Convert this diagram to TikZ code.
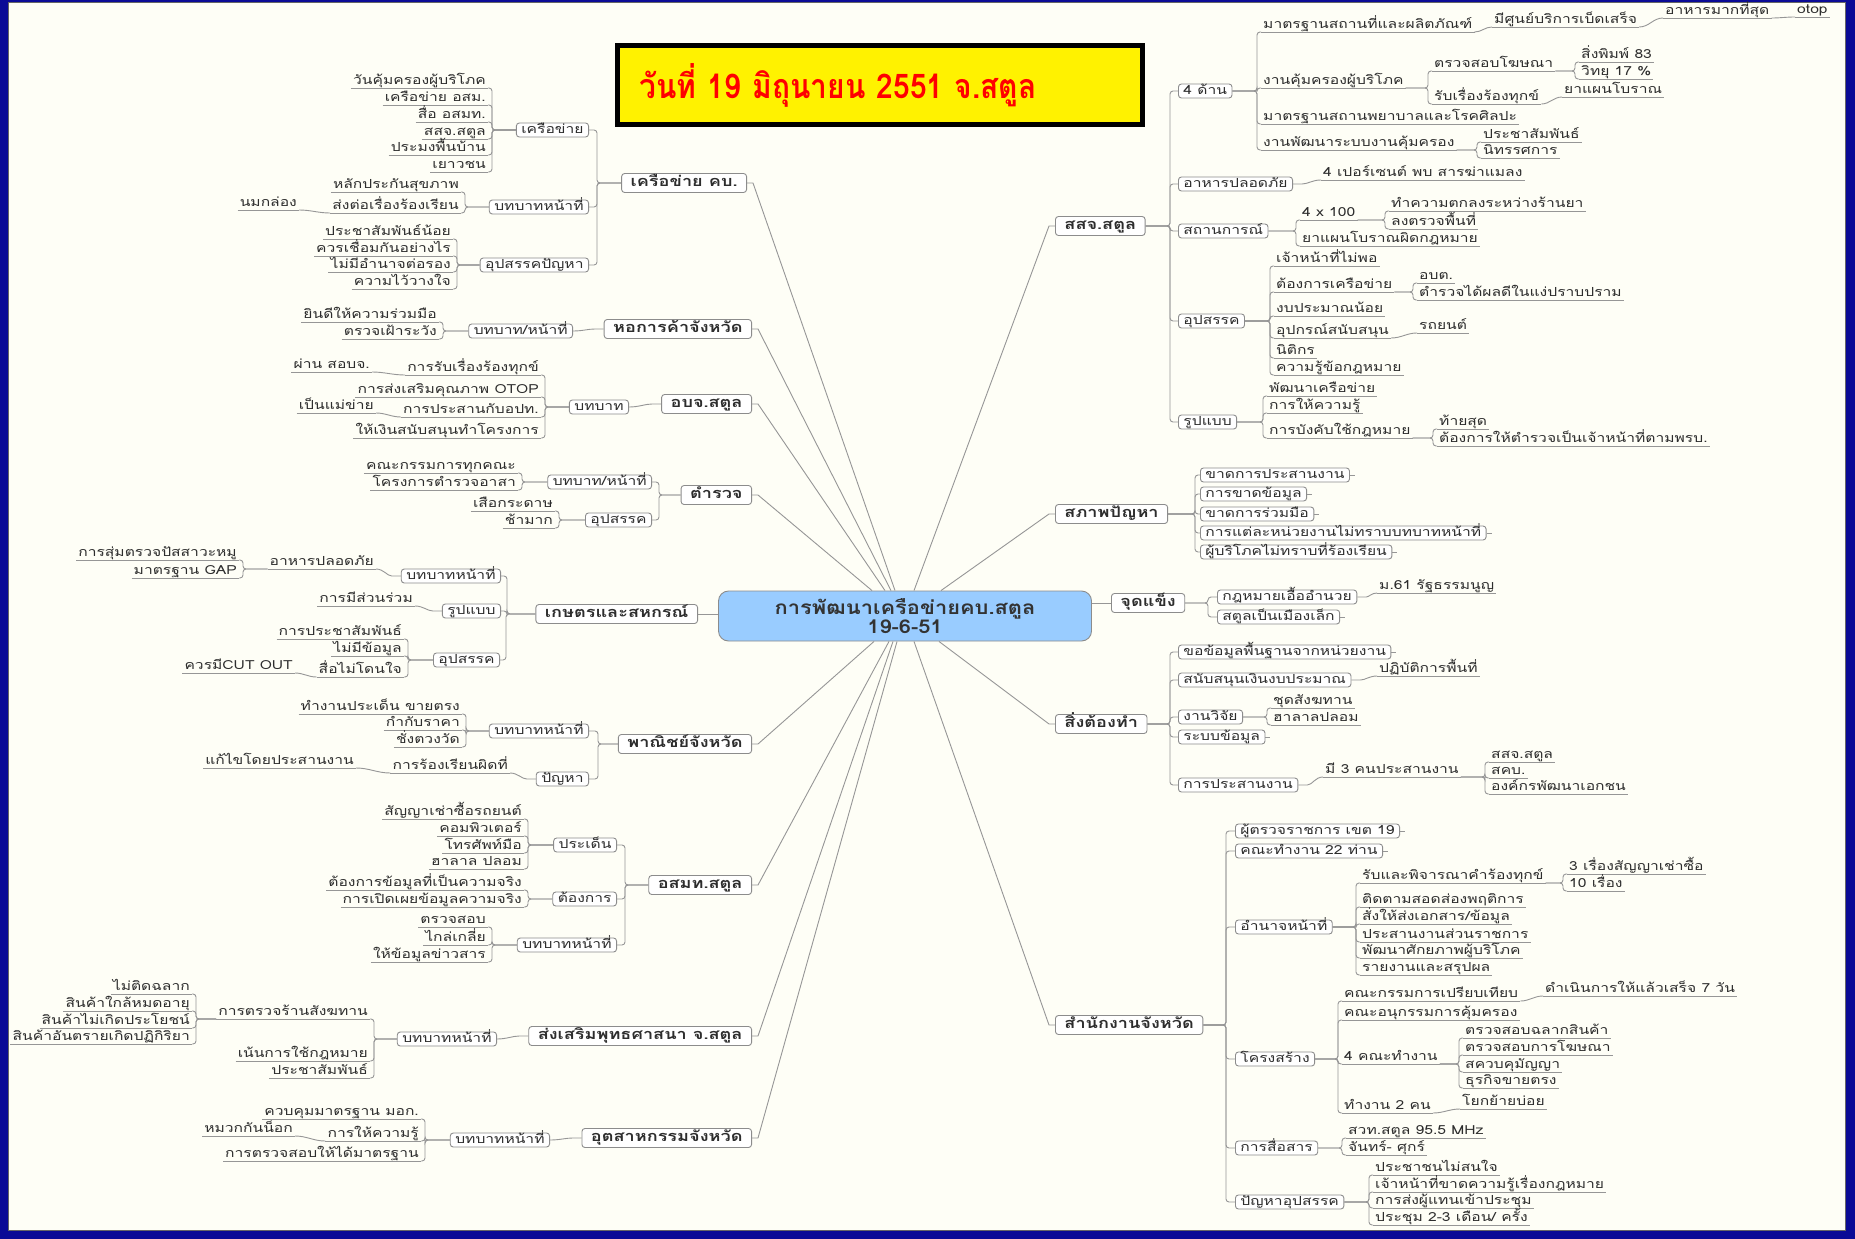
\documentclass[tikz,border=0pt]{standalone}
\usepackage{fontspec}
\newfontfamily\thai[Script=Thai,FakeStretch=1.25]{Loma}
\newfontfamily\thairoot[Script=Thai,FakeStretch=1.15]{Loma}
\newfontfamily\thaititle[Script=Thai,FakeStretch=0.88]{Loma}
\newcommand\leaffont{\thai\fontsize{12.5}{14}\selectfont}
\newcommand\mainboxfont{\thai\bfseries\fontsize{14.5}{16}\selectfont}
\newcommand\rootfont{\thairoot\bfseries\fontsize{19}{18}\selectfont}
\newcommand\titlefont{\thaititle\bfseries\fontsize{34}{36}\selectfont}
\definecolor{linec}{RGB}{150,150,150}
\definecolor{boxc}{RGB}{140,140,140}
\definecolor{textc}{RGB}{45,45,45}
\definecolor{bgcream}{RGB}{254,254,246}
\definecolor{frameblue}{RGB}{10,10,150}
\definecolor{rootblue}{RGB}{153,204,255}
\begin{document}
\begin{tikzpicture}[x=1pt,y=-1pt,
  link/.style={draw=linec,line width=0.9pt,rounded corners=3pt},
  spoke/.style={draw=linec,line width=0.9pt},
  uline/.style={draw=linec,line width=0.9pt},
  leaf/.style={font=\leaffont,text=textc,inner xsep=2pt,inner ysep=1.5pt,text height=8pt,text depth=1.5pt,
    append after command={(\tikzlastnode.south west) edge[uline] (\tikzlastnode.south east)}},
  leafl/.style={leaf,anchor=south east},
  leafr/.style={leaf,anchor=south west},
  subbox/.style={draw=boxc,line width=0.9pt,fill=white,rounded corners=3pt,font=\leaffont,text=textc,
    inner xsep=5pt,inner ysep=2pt,text height=8pt,text depth=2pt},
  subl/.style={subbox,anchor=east},
  subr/.style={subbox,anchor=west},
  mainbox/.style={subbox,font=\mainboxfont,inner xsep=9pt,inner ysep=3pt,text height=10pt,text depth=3pt},
  mainl/.style={mainbox,anchor=east},
  mainr/.style={mainbox,anchor=west},
  stub/.style={append after command={(\tikzlastnode.east) edge[uline] ++(5,0)}}]
\useasboundingbox (0,0) rectangle (1855,1239);
\fill[frameblue] (0,0) rectangle (1855,1239);
\fill[bgcream] (8,3) rectangle (1845,1230);
\draw[black!60,line width=1pt] (8,3) rectangle (1845,1230);

\node[draw=black,line width=5pt,fill=yellow,minimum width=525,minimum height=78,inner xsep=22pt,text width=481pt,align=left,font=\titlefont,text=red] (title) at (880,85) {วันที่ 19 มิถุนายน 2551 จ.สตูล};
\node[draw=boxc,line width=0.9pt,fill=rootblue,rounded corners=10pt,minimum width=373,minimum height=50,inner sep=0pt,align=center,font=\rootfont,text=black!80] (root) at (905,616) {การพัฒนาเครือข่ายคบ.สตูล\\19-6-51};

% left side
\node[mainl] (kb) at (747,183) {เครือข่าย คบ.};
\node[subl] (kb1) at (589,130) {เครือข่าย};
\node[subl] (kb2) at (589,207) {บทบาทหน้าที่};
\node[subl] (kb3) at (589,265) {อุปสรรคปัญหา};
\node[leafl] (kb1a) at (488,88) {วันคุ้มครองผู้บริโภค};
\node[leafl] (kb1b) at (488,105) {เครือข่าย อสม.};
\node[leafl] (kb1c) at (488,122) {สื่อ อสมท.};
\node[leafl] (kb1d) at (488,139) {สสจ.สตูล};
\node[leafl] (kb1e) at (488,155) {ประมงพื้นบ้าน};
\node[leafl] (kb1f) at (488,172) {เยาวชน};
\node[leafl] (kb2a) at (461,192) {หลักประกันสุขภาพ};
\node[leafl] (kb2b) at (461,213) {ส่งต่อเรื่องร้องเรียน};
\node[leafl] (kb2b1) at (299,210) {นมกล่อง};
\node[leafl] (kb3a) at (453,239) {ประชาสัมพันธ์น้อย};
\node[leafl] (kb3b) at (453,256) {ควรเชื่อมกันอย่างไร};
\node[leafl] (kb3c) at (453,272) {ไม่มีอำนาจต่อรอง};
\node[leafl] (kb3d) at (453,289) {ความไว้วางใจ};

\node[mainl] (hk) at (752,329) {หอการค้าจังหวัด};
\node[subl] (hk1) at (573,331) {บทบาท/หน้าที่};
\node[leafl] (hk1a) at (439,322) {ยินดีให้ความร่วมมือ};
\node[leafl] (hk1b) at (439,339) {ตรวจเฝ้าระวัง};

\node[mainl] (obj) at (752,404) {อบจ.สตูล};
\node[subl] (obj1) at (629,407) {บทบาท};
\node[leafl] (obj1a) at (541,375) {การรับเรื่องร้องทุกข์};
\node[leafl] (obj1b) at (541,397) {การส่งเสริมคุณภาพ OTOP};
\node[leafl] (obj1c) at (541,417) {การประสานกับอปท.};
\node[leafl] (obj1d) at (541,438) {ให้เงินสนับสนุนทำโครงการ};
\node[leafl] (obj1a1) at (372,372) {ผ่าน สอบจ.};
\node[leafl] (obj1c1) at (376,413) {เป็นแม่ข่าย};

\node[mainl] (pol) at (752,495) {ตำรวจ};
\node[subl] (pol1) at (652,482) {บทบาท/หน้าที่};
\node[subl] (pol2) at (652,520) {อุปสรรค};
\node[leafl] (pol1a) at (518,473) {คณะกรรมการทุกคณะ};
\node[leafl] (pol1b) at (518,490) {โครงการตำรวจอาสา};
\node[leafl] (pol2a) at (555,511) {เสือกระดาษ};
\node[leafl] (pol2b) at (555,528) {ช้ามาก};

\node[mainl] (agr) at (698,614) {เกษตรและสหกรณ์};
\node[subl] (agr1) at (501,576) {บทบาทหน้าที่};
\node[subl] (agr2) at (501,611) {รูปแบบ};
\node[subl] (agr3) at (500,660) {อุปสรรค};
\node[leafl] (agr1a) at (376,569) {อาหารปลอดภัย};
\node[leafl] (agr1a1) at (239,560) {การสุ่มตรวจปัสสาวะหมู};
\node[leafl] (agr1a2) at (239,578) {มาตรฐาน GAP};
\node[leafl] (agr2a) at (415,606) {การมีส่วนร่วม};
\node[leafl] (agr3a) at (404,639) {การประชาสัมพันธ์};
\node[leafl] (agr3b) at (404,656) {ไม่มีข้อมูล};
\node[leafl] (agr3c) at (404,677) {สื่อไม่โดนใจ};
\node[leafl] (agr3c1) at (295,673) {ควรมีCUT OUT};

\node[mainl] (com) at (752,744) {พาณิชย์จังหวัด};
\node[subl] (com1) at (589,731) {บทบาทหน้าที่};
\node[subl] (com2) at (589,779) {ปัญหา};
\node[leafl] (com1a) at (462,714) {ทำงานประเด็น ขายตรง};
\node[leafl] (com1b) at (462,730) {กำกับราคา};
\node[leafl] (com1c) at (462,747) {ชั่งตวงวัด};
\node[leafl] (com2a) at (510,773) {การร้องเรียนผิดที่};
\node[leafl] (com2a1) at (356,768) {แก้ไขโดยประสานงาน};

\node[mainl] (mcot) at (752,885) {อสมท.สตูล};
\node[subl] (mc1) at (617,845) {ประเด็น};
\node[subl] (mc2) at (617,899) {ต้องการ};
\node[subl] (mc3) at (617,945) {บทบาทหน้าที่};
\node[leafl] (mc1a) at (524,819) {สัญญาเช่าซื้อรถยนต์};
\node[leafl] (mc1b) at (524,836) {คอมพิวเตอร์};
\node[leafl] (mc1c) at (524,853) {โทรศัพท์มือ};
\node[leafl] (mc1d) at (524,869) {ฮาลาล ปลอม};
\node[leafl] (mc2a) at (524,890) {ต้องการข้อมูลที่เป็นความจริง};
\node[leafl] (mc2b) at (524,907) {การเปิดเผยข้อมูลความจริง};
\node[leafl] (mc3a) at (488,927) {ตรวจสอบ};
\node[leafl] (mc3b) at (488,945) {ไกล่เกลี่ย};
\node[leafl] (mc3c) at (488,962) {ให้ข้อมูลข่าวสาร};

\node[mainl] (bud) at (752,1036) {ส่งเสริมพุทธศาสนา จ.สตูล};
\node[subl] (bud1) at (497,1039) {บทบาทหน้าที่};
\node[leafl] (bud1a) at (370,1019) {การตรวจร้านสังฆทาน};
\node[leafl] (bud1b) at (370,1061) {เน้นการใช้กฎหมาย};
\node[leafl] (bud1c) at (370,1078) {ประชาสัมพันธ์};
\node[leafl] (bud1a1) at (192,994) {ไม่ติดฉลาก};
\node[leafl] (bud1a2) at (192,1011) {สินค้าใกล้หมดอายุ};
\node[leafl] (bud1a3) at (192,1028) {สินค้าไม่เกิดประโยชน์};
\node[leafl] (bud1a4) at (192,1044) {สินค้าอันตรายเกิดปฏิกิริยา};

\node[mainl] (ind) at (752,1138) {อุตสาหกรรมจังหวัด};
\node[subl] (ind1) at (550,1140) {บทบาทหน้าที่};
\node[leafl] (ind1a) at (421,1119) {ควบคุมมาตรฐาน มอก.};
\node[leafl] (ind1b) at (421,1141) {การให้ความรู้};
\node[leafl] (ind1c) at (421,1161) {การตรวจสอบให้ได้มาตรฐาน};
\node[leafl] (ind1b1) at (295,1136) {หมวกกันน็อก};

% right side
\node[mainr] (ssj) at (1055,226) {สสจ.สตูล};
\node[subr] (ssj1) at (1178,91) {4 ด้าน};
\node[subr] (ssj2) at (1178,184) {อาหารปลอดภัย};
\node[subr] (ssj3) at (1178,231) {สถานการณ์};
\node[subr] (ssj4) at (1178,321) {อุปสรรค};
\node[subr] (ssj5) at (1178,422) {รูปแบบ};
\node[leafr] (ssj1a) at (1261,32) {มาตรฐานสถานที่และผลิตภัณฑ์};
\node[leafr] (ssj1b) at (1261,88) {งานคุ้มครองผู้บริโภค};
\node[leafr] (ssj1c) at (1261,124) {มาตรฐานสถานพยาบาลและโรคศิลปะ};
\node[leafr] (ssj1d) at (1261,150) {งานพัฒนาระบบงานคุ้มครอง};
\node[leafr] (ssj1a1) at (1492,27) {มีศูนย์บริการเบ็ดเสร็จ};
\node[leafr] (ssj1a2) at (1663,18) {อาหารมากที่สุด};
\node[leafr] (ssj1a3) at (1795,17) {otop};
\node[leafr] (ssj1b1) at (1432,71) {ตรวจสอบโฆษณา};
\node[leafr] (ssj1b2) at (1432,104) {รับเรื่องร้องทุกข์};
\node[leafr] (ssj1b1a) at (1579,62) {สิ่งพิมพ์ 83};
\node[leafr] (ssj1b1b) at (1579,79) {วิทยุ 17 \%};
\node[leafr] (ssj1b2a) at (1562,97) {ยาแผนโบราณ};
\node[leafr] (ssj1d1) at (1481,142) {ประชาสัมพันธ์};
\node[leafr] (ssj1d2) at (1481,158) {นิทรรศการ};
\node[leafr] (ssj2a) at (1321,180) {4 เปอร์เซนต์ พบ สารฆ่าแมลง};
\node[leafr] (ssj3a) at (1300,220) {4 x 100};
\node[leafr] (ssj3b) at (1300,246) {ยาแผนโบราณผิดกฎหมาย};
\node[leafr] (ssj3a1) at (1389,211) {ทำความตกลงระหว่างร้านยา};
\node[leafr] (ssj3a2) at (1389,229) {ลงตรวจพื้นที่};
\node[leafr] (ssj4a) at (1274,266) {เจ้าหน้าที่ไม่พอ};
\node[leafr] (ssj4b) at (1274,292) {ต้องการเครือข่าย};
\node[leafr] (ssj4c) at (1274,316) {งบประมาณน้อย};
\node[leafr] (ssj4d) at (1274,338) {อุปกรณ์สนับสนุน};
\node[leafr] (ssj4e) at (1274,358) {นิติกร};
\node[leafr] (ssj4f) at (1274,375) {ความรู้ข้อกฎหมาย};
\node[leafr] (ssj4b1) at (1417,283) {อบต.};
\node[leafr] (ssj4b2) at (1417,300) {ตำรวจได้ผลดีในแง่ปราบปราม};
\node[leafr] (ssj4d1) at (1417,333) {รถยนต์};
\node[leafr] (ssj5a) at (1267,396) {พัฒนาเครือข่าย};
\node[leafr] (ssj5b) at (1267,413) {การให้ความรู้};
\node[leafr] (ssj5c) at (1267,438) {การบังคับใช้กฎหมาย};
\node[leafr] (ssj5c1) at (1437,429) {ท้ายสุด};
\node[leafr] (ssj5c2) at (1437,446) {ต้องการให้ตำรวจเป็นเจ้าหน้าที่ตามพรบ.};

\node[mainr] (prob) at (1055,514) {สภาพปัญหา};
\node[subr,stub] (prob1) at (1200,475) {ขาดการประสานงาน};
\node[subr,stub] (prob2) at (1200,494) {การขาดข้อมูล};
\node[subr,stub] (prob3) at (1200,514) {ขาดการร่วมมือ};
\node[subr,stub] (prob4) at (1200,533) {การแต่ละหน่วยงานไม่ทราบบทบาทหน้าที่};
\node[subr,stub] (prob5) at (1200,552) {ผู้บริโภคไม่ทราบที่ร้องเรียน};

\node[mainr] (str) at (1111,603) {จุดแข็ง};
\node[subr] (str1) at (1217,597) {กฎหมายเอื้ออำนวย};
\node[subr,stub] (str2) at (1217,617) {สตูลเป็นเมืองเล็ก};
\node[leafr] (str1a) at (1377,593) {ม.61 รัฐธรรมนูญ};

\node[mainr] (todo) at (1055,724) {สิ่งต้องทำ};
\node[subr,stub] (todo1) at (1178,652) {ขอข้อมูลพื้นฐานจากหน่วยงาน};
\node[subr] (todo2) at (1178,680) {สนับสนุนเงินงบประมาณ};
\node[subr] (todo3) at (1178,717) {งานวิจัย};
\node[subr,stub] (todo4) at (1178,737) {ระบบข้อมูล};
\node[subr] (todo5) at (1178,785) {การประสานงาน};
\node[leafr] (todo2a) at (1377,676) {ปฏิบัติการพื้นที่};
\node[leafr] (todo3a) at (1271,708) {ชุดสังฆทาน};
\node[leafr] (todo3b) at (1271,725) {ฮาลาลปลอม};
\node[leafr] (todo5a) at (1323,777) {มี 3 คนประสานงาน};
\node[leafr] (todo5a1) at (1489,762) {สสจ.สตูล};
\node[leafr] (todo5a2) at (1489,778) {สคบ.};
\node[leafr] (todo5a3) at (1489,794) {องค์กรพัฒนาเอกชน};

\node[mainr] (off) at (1055,1025) {สำนักงานจังหวัด};
\node[subr,stub] (off1) at (1235,831) {ผู้ตรวจราชการ เขต 19};
\node[subr,stub] (off2) at (1235,851) {คณะทำงาน 22 ท่าน};
\node[subr] (off3) at (1235,927) {อำนาจหน้าที่};
\node[subr] (off4) at (1235,1059) {โครงสร้าง};
\node[subr] (off5) at (1235,1148) {การสื่อสาร};
\node[subr] (off6) at (1235,1202) {ปัญหาอุปสรรค};
\node[leafr] (off3a) at (1360,883) {รับและพิจารณาคำร้องทุกข์};
\node[leafr] (off3b) at (1360,907) {ติดตามสอดส่องพฤติการ};
\node[leafr] (off3c) at (1360,924) {สั่งให้ส่งเอกสาร/ข้อมูล};
\node[leafr] (off3d) at (1360,942) {ประสานงานส่วนราชการ};
\node[leafr] (off3e) at (1360,958) {พัฒนาศักยภาพผู้บริโภค};
\node[leafr] (off3f) at (1360,975) {รายงานและสรุปผล};
\node[leafr] (off3a1) at (1567,874) {3 เรื่องสัญญาเช่าซื้อ};
\node[leafr] (off3a2) at (1567,891) {10 เรื่อง};
\node[leafr] (off4a) at (1342,1001) {คณะกรรมการเปรียบเทียบ};
\node[leafr] (off4b) at (1342,1020) {คณะอนุกรรมการคุ้มครอง};
\node[leafr] (off4c) at (1342,1064) {4 คณะทำงาน};
\node[leafr] (off4d) at (1342,1113) {ทำงาน 2 คน};
\node[leafr] (off4a1) at (1543,996) {ดำเนินการให้แล้วเสร็จ 7 วัน};
\node[leafr] (off4c1) at (1463,1038) {ตรวจสอบฉลากสินค้า};
\node[leafr] (off4c2) at (1463,1055) {ตรวจสอบการโฆษณา};
\node[leafr] (off4c3) at (1463,1072) {สควบคุมัญญา};
\node[leafr] (off4c4) at (1463,1088) {ธุรกิจขายตรง};
\node[leafr] (off4d1) at (1460,1109) {โยกย้ายบ่อย};
\node[leafr] (off5a) at (1346,1138) {สวท.สตูล 95.5 MHz};
\node[leafr] (off5b) at (1346,1155) {จันทร์- ศุกร์};
\node[leafr] (off6a) at (1373,1175) {ประชาชนไม่สนใจ};
\node[leafr] (off6b) at (1373,1192) {เจ้าหน้าที่ขาดความรู้เรื่องกฎหมาย};
\node[leafr] (off6c) at (1373,1208) {การส่งผู้แทนเข้าประชุม};
\node[leafr] (off6d) at (1373,1225) {ประชุม 2-3 เดือน/ ครั้ง};

% spokes
\draw[spoke] (pol.east) -- ++(6,0) -- ([xshift=-33pt]root.north);
\draw[spoke] (obj.east) -- ++(6,0) -- ([xshift=-20pt]root.north);
\draw[spoke] (hk.east) -- ++(6,0) -- ([xshift=-14pt]root.north);
\draw[spoke] (kb.east) -- ++(6,0) -- ([xshift=-10pt]root.north);
\draw[spoke] (ssj.west) -- ++(-6,0) -- ([xshift=9pt]root.north);
\draw[spoke] (prob.west) -- ++(-6,0) -- ([xshift=36pt]root.north);
\draw[spoke] (com.east) -- ++(6,0) -- ([xshift=-31pt]root.south);
\draw[spoke] (mcot.east) -- ++(6,0) -- ([xshift=-16pt]root.south);
\draw[spoke] (bud.east) -- ++(6,0) -- ([xshift=-12pt]root.south);
\draw[spoke] (ind.east) -- ++(6,0) -- ([xshift=-8pt]root.south);
\draw[spoke] (off.west) -- ++(-6,0) -- ([xshift=9pt]root.south);
\draw[spoke] (todo.west) -- ++(-6,0) -- ([xshift=34pt]root.south);
\draw[spoke] (agr.east) -- (agr.east -| root.west);
\draw[spoke] (str.west) -- (str.west -| root.east);

% left links
\foreach \c in {kb1,kb2,kb3} \draw[link] (kb.west) -| ([xshift=8pt]\c.east) -- (\c.east);
\foreach \c in {kb1a,kb1b,kb1c,kb1d,kb1e,kb1f} \draw[link] (kb1.west) -| ([xshift=4pt]\c.south east) -- (\c.south east);
\foreach \c in {kb2a,kb2b} \draw[link] (kb2.west) -| ([xshift=4pt]\c.south east) -- (\c.south east);
\foreach \c in {kb3a,kb3b,kb3c,kb3d} \draw[link] (kb3.west) -| ([xshift=4pt]\c.south east) -- (\c.south east);
\draw[link] (kb2b.south west) to[out=180,in=0] (kb2b1.south east);
\draw[link] (hk.west) -- ++(-6,0) to[out=180,in=0] (hk1.east);
\foreach \c in {hk1a,hk1b} \draw[link] (hk1.west) -| ([xshift=4pt]\c.south east) -- (\c.south east);
\draw[link] (obj.west) -- ++(-6,0) to[out=180,in=0] (obj1.east);
\foreach \c in {obj1a,obj1b,obj1c,obj1d} \draw[link] (obj1.west) -| ([xshift=4pt]\c.south east) -- (\c.south east);
\draw[link] (obj1a.south west) to[out=180,in=0] (obj1a1.south east);
\draw[link] (obj1c.south west) to[out=180,in=0] (obj1c1.south east);
\foreach \c in {pol1,pol2} \draw[link] (pol.west) -| ([xshift=7pt]\c.east) -- (\c.east);
\foreach \c in {pol1a,pol1b} \draw[link] (pol1.west) -| ([xshift=4pt]\c.south east) -- (\c.south east);
\foreach \c in {pol2a,pol2b} \draw[link] (pol2.west) -| ([xshift=4pt]\c.south east) -- (\c.south east);
\foreach \c in {agr1,agr2,agr3} \draw[link] (agr.west) -| ([xshift=6pt]\c.east) -- (\c.east);
\draw[link] (agr1.west) -- ++(-6,0) to[out=180,in=0] (agr1a.south east);
\foreach \c in {agr1a1,agr1a2} \draw[link] (agr1a.south west) -| ([xshift=4pt]\c.south east) -- (\c.south east);
\draw[link] (agr2.west) -- ++(-6,0) to[out=180,in=0] (agr2a.south east);
\foreach \c in {agr3a,agr3b,agr3c} \draw[link] (agr3.west) -| ([xshift=4pt]\c.south east) -- (\c.south east);
\draw[link] (agr3c.south west) to[out=180,in=0] (agr3c1.south east);
\foreach \c in {com1,com2} \draw[link] (com.west) -| ([xshift=9pt]\c.east) -- (\c.east);
\foreach \c in {com1a,com1b,com1c} \draw[link] (com1.west) -| ([xshift=4pt]\c.south east) -- (\c.south east);
\draw[link] (com2.west) -- ++(-6,0) to[out=180,in=0] (com2a.south east);
\draw[link] (com2a.south west) to[out=180,in=0] (com2a1.south east);
\foreach \c in {mc1,mc2,mc3} \draw[link] (mcot.west) -| ([xshift=8pt]\c.east) -- (\c.east);
\foreach \c in {mc1a,mc1b,mc1c,mc1d} \draw[link] (mc1.west) -| ([xshift=4pt]\c.south east) -- (\c.south east);
\foreach \c in {mc2a,mc2b} \draw[link] (mc2.west) -| ([xshift=4pt]\c.south east) -- (\c.south east);
\foreach \c in {mc3a,mc3b,mc3c} \draw[link] (mc3.west) -| ([xshift=4pt]\c.south east) -- (\c.south east);
\draw[link] (bud.west) -- ++(-6,0) to[out=180,in=0] (bud1.east);
\foreach \c in {bud1a,bud1b,bud1c} \draw[link] (bud1.west) -| ([xshift=4pt]\c.south east) -- (\c.south east);
\foreach \c in {bud1a1,bud1a2,bud1a3,bud1a4} \draw[link] (bud1a.south west) -| ([xshift=4pt]\c.south east) -- (\c.south east);
\draw[link] (ind.west) -- ++(-6,0) to[out=180,in=0] (ind1.east);
\foreach \c in {ind1a,ind1b,ind1c} \draw[link] (ind1.west) -| ([xshift=4pt]\c.south east) -- (\c.south east);
\draw[link] (ind1b.south west) to[out=180,in=0] (ind1b1.south east);

% right links
\foreach \c in {ssj1,ssj2,ssj3,ssj4,ssj5} \draw[link] (ssj.east) -| ([xshift=-8pt]\c.west) -- (\c.west);
\foreach \c in {ssj1a,ssj1b,ssj1c,ssj1d} \draw[link] (ssj1.east) -| ([xshift=-4pt]\c.south west) -- (\c.south west);
\draw[link] (ssj1a.south east) to[out=0,in=180] (ssj1a1.south west);
\draw[link] (ssj1a1.south east) to[out=0,in=180] (ssj1a2.south west);
\draw[link] (ssj1a2.south east) to[out=0,in=180] (ssj1a3.south west);
\foreach \c in {ssj1b1,ssj1b2} \draw[link] (ssj1b.south east) -| ([xshift=-4pt]\c.south west) -- (\c.south west);
\foreach \c in {ssj1b1a,ssj1b1b} \draw[link] (ssj1b1.south east) -| ([xshift=-4pt]\c.south west) -- (\c.south west);
\draw[link] (ssj1b2.south east) to[out=0,in=180] (ssj1b2a.south west);
\foreach \c in {ssj1d1,ssj1d2} \draw[link] (ssj1d.south east) -| ([xshift=-4pt]\c.south west) -- (\c.south west);
\draw[link] (ssj2.east) -- ++(6,0) to[out=0,in=180] (ssj2a.south west);
\foreach \c in {ssj3a,ssj3b} \draw[link] (ssj3.east) -| ([xshift=-4pt]\c.south west) -- (\c.south west);
\foreach \c in {ssj3a1,ssj3a2} \draw[link] (ssj3a.south east) -| ([xshift=-4pt]\c.south west) -- (\c.south west);
\foreach \c in {ssj4a,ssj4b,ssj4c,ssj4d,ssj4e,ssj4f} \draw[link] (ssj4.east) -| ([xshift=-4pt]\c.south west) -- (\c.south west);
\foreach \c in {ssj4b1,ssj4b2} \draw[link] (ssj4b.south east) -| ([xshift=-4pt]\c.south west) -- (\c.south west);
\draw[link] (ssj4d.south east) to[out=0,in=180] (ssj4d1.south west);
\foreach \c in {ssj5a,ssj5b,ssj5c} \draw[link] (ssj5.east) -| ([xshift=-4pt]\c.south west) -- (\c.south west);
\foreach \c in {ssj5c1,ssj5c2} \draw[link] (ssj5c.south east) -| ([xshift=-4pt]\c.south west) -- (\c.south west);
\foreach \c in {prob1,prob2,prob3,prob4,prob5} \draw[link] (prob.east) -| ([xshift=-5pt]\c.west) -- (\c.west);
\foreach \c in {str1,str2} \draw[link] (str.east) -| ([xshift=-9pt]\c.west) -- (\c.west);
\draw[link] (str1.east) -- ++(6,0) to[out=0,in=180] (str1a.south west);
\foreach \c in {todo1,todo2,todo3,todo4,todo5} \draw[link] (todo.east) -| ([xshift=-8pt]\c.west) -- (\c.west);
\draw[link] (todo2.east) -- ++(6,0) to[out=0,in=180] (todo2a.south west);
\foreach \c in {todo3a,todo3b} \draw[link] (todo3.east) -| ([xshift=-4pt]\c.south west) -- (\c.south west);
\draw[link] (todo5.east) -- ++(6,0) to[out=0,in=180] (todo5a.south west);
\foreach \c in {todo5a1,todo5a2,todo5a3} \draw[link] (todo5a.south east) -| ([xshift=-4pt]\c.south west) -- (\c.south west);
\foreach \c in {off1,off2,off3,off4,off5,off6} \draw[link] (off.east) -| ([xshift=-9pt]\c.west) -- (\c.west);
\foreach \c in {off3a,off3b,off3c,off3d,off3e,off3f} \draw[link] (off3.east) -| ([xshift=-4pt]\c.south west) -- (\c.south west);
\foreach \c in {off3a1,off3a2} \draw[link] (off3a.south east) -| ([xshift=-4pt]\c.south west) -- (\c.south west);
\foreach \c in {off4a,off4b,off4c,off4d} \draw[link] (off4.east) -| ([xshift=-4pt]\c.south west) -- (\c.south west);
\draw[link] (off4a.south east) to[out=0,in=180] (off4a1.south west);
\foreach \c in {off4c1,off4c2,off4c3,off4c4} \draw[link] (off4c.south east) -| ([xshift=-4pt]\c.south west) -- (\c.south west);
\draw[link] (off4d.south east) to[out=0,in=180] (off4d1.south west);
\foreach \c in {off5a,off5b} \draw[link] (off5.east) -| ([xshift=-4pt]\c.south west) -- (\c.south west);
\foreach \c in {off6a,off6b,off6c,off6d} \draw[link] (off6.east) -| ([xshift=-4pt]\c.south west) -- (\c.south west);
\end{tikzpicture}
\end{document}
